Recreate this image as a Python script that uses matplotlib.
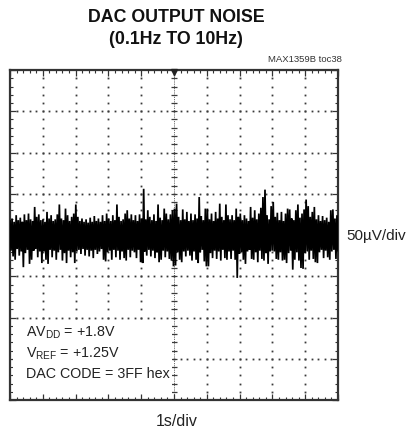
import numpy as np
import matplotlib
matplotlib.use("Agg")
import matplotlib.pyplot as plt
from matplotlib.patches import Rectangle

# ---------------- data ----------------
title_lines = ["DAC OUTPUT NOISE", "(0.1Hz TO 10Hz)"]
chart_id = "MAX1359B toc38"
y_scale_label = "50\u00b5V/div"
x_scale_label = "1s/div"
conditions = ["AV$_{\\mathrm{DD}}$ = +1.8V",
              "V$_{\\mathrm{REF}}$ = +1.25V",
              "DAC CODE = 3FF hex"]

time_span_s = 10.0          # 10 divisions x 1 s/div
volt_span_uv = 400.0        # 8 divisions x 50 uV/div
n_xdiv = 10
n_ydiv = 8

# positive excursions of the noise trace (uV), left to right
upper_uv = [
    17, 20, 16, 24, 18, 21, 16, 25, 18, 26, 19, 17, 34, 22, 25, 18,
    19, 16, 28, 20, 24, 17, 19, 25, 37, 20, 18, 32, 24, 17, 22, 26,
    37, 22, 17, 20, 16, 19, 15, 21, 16, 23, 17, 20, 16, 24, 17, 26,
    20, 17, 24, 18, 37, 22, 17, 19, 26, 30, 20, 25, 18, 24, 17, 25,
    20, 56, 19, 30, 22, 18, 25, 17, 37, 21, 18, 32, 26, 19, 25, 30,
    32, 38, 22, 18, 31, 19, 28, 17, 26, 18, 25, 20, 46, 23, 18, 32,
    32, 19, 26, 17, 28, 20, 38, 22, 18, 37, 24, 19, 24, 18, 32, 22,
    26, 18, 24, 20, 17, 34, 21, 30, 19, 26, 33, 46, 55, 24, 19, 35,
    40, 22, 27, 18, 28, 17, 26, 32, 31, 20, 18, 30, 37, 21, 26, 31,
    43, 35, 22, 28, 34, 19, 24, 17, 23, 18, 21, 16, 30, 31, 20, 24,
]
# negative excursions of the noise trace (uV), left to right
lower_uv = [
    -19, -26, -30, -17, -25, -20, -39, -22, -18, -35, -30, -19, -17, -27, -20, -34,
    -20, -30, -35, -18, -27, -19, -30, -21, -18, -31, -22, -34, -19, -27, -21, -34,
    -20, -18, -23, -17, -25, -18, -26, -19, -28, -18, -23, -20, -17, -30, -32, -21,
    -19, -30, -18, -27, -19, -30, -20, -28, -31, -18, -27, -19, -21, -28, -18, -33,
    -34, -20, -25, -18, -26, -19, -28, -21, -33, -30, -19, -27, -20, -29, -31, -38,
    -37, -21, -30, -33, -20, -26, -19, -25, -31, -20, -30, -34, -21, -18, -32, -38,
    -38, -22, -28, -19, -29, -20, -31, -18, -28, -30, -20, -29, -19, -30, -52, -23,
    -21, -30, -35, -20, -18, -29, -30, -21, -33, -19, -29, -31, -22, -35, -20, -19,
    -20, -29, -30, -21, -31, -30, -34, -22, -19, -42, -30, -21, -31, -40, -41, -22,
    -20, -30, -19, -29, -33, -34, -21, -18, -28, -19, -27, -30, -20, -18, -29, -19,
]

# ---------------- figure ----------------
plt.rcParams['font.family'] = ['Liberation Sans', 'DejaVu Sans']
plt.rcParams['mathtext.fontset'] = 'custom'
plt.rcParams['mathtext.rm'] = 'Liberation Sans'
plt.rcParams['mathtext.it'] = 'Liberation Sans:italic'
plt.rcParams['mathtext.bf'] = 'Liberation Sans:bold'

W, H = 407, 430
fig = plt.figure(figsize=(W / 100, H / 100), dpi=100)
fig.patch.set_facecolor('white')
ax = fig.add_axes([10 / W, 30 / H, 328 / W, 330 / H])

xmax = time_span_s
ymax = volt_span_uv / 2
ax.set_xlim(0, xmax)
ax.set_ylim(-ymax, ymax)

xdiv = xmax / n_xdiv
ydiv = volt_span_uv / n_ydiv

# dotted graticule
gcol = '#3a3a3a'
minor_x = np.arange(0, xmax + 1e-9, xdiv / 5)
minor_y = np.arange(-ymax, ymax + 1e-9, ydiv / 5)
for i in range(1, n_ydiv):
    yv = -ymax + i * ydiv
    if abs(yv) < 1e-9:
        continue
    ax.plot(minor_x[1:-1], np.full(len(minor_x) - 2, yv), ls='none', marker='s',
            ms=1.3, mew=0, color=gcol, zorder=1)
for i in range(1, n_xdiv):
    xv = i * xdiv
    if abs(xv - xmax / 2) < 1e-9:
        continue
    ax.plot(np.full(len(minor_y) - 2, xv), minor_y[1:-1], ls='none', marker='s',
            ms=1.3, mew=0, color=gcol, zorder=1)
# centre axes with cross ticks
ax.axvline(xmax / 2, color=gcol, lw=0.6, ls=(0, (1, 1.2)), zorder=1)
ax.axhline(0, color=gcol, lw=0.6, ls=(0, (1, 1.2)), zorder=1)
ax.plot(np.full(len(minor_y), xmax / 2), minor_y, ls='none', marker='_', ms=5,
        mew=0.9, color=gcol, zorder=1)
ax.plot(minor_x, np.zeros(len(minor_x)), ls='none', marker='|', ms=5,
        mew=0.9, color=gcol, zorder=1)
ax.plot([xmax / 2], [ymax - 2], ls='none', marker='v', ms=4, color='#222222',
        zorder=3, clip_on=False)

# noise trace: alternate positive / negative excursions
trace = np.empty(len(upper_uv) + len(lower_uv))
trace[0::2] = upper_uv
trace[1::2] = lower_uv
t = np.linspace(0, xmax, len(trace))
ax.plot(t, trace, color='black', lw=1.25, zorder=4, solid_joinstyle='miter')

# white box behind the conditions text
ax.add_patch(Rectangle((0.08, -193), 4.85, 90, facecolor='white',
                       edgecolor='none', zorder=2.2))
ys_text = [-123.5, -149, -173]
for s, yv in zip(conditions, ys_text):
    ax.text(0.49, yv, s, fontsize=10.3, va='baseline', ha='left',
            color='#222222', zorder=5)

# frame and ticks
for sp in ax.spines.values():
    sp.set_linewidth(1.6)
    sp.set_color('#333333')
ax.set_xticks(np.arange(0, xmax + 1e-9, xdiv))
ax.set_yticks(np.arange(-ymax, ymax + 1e-9, ydiv))
ax.set_xticks(minor_x, minor=True)
ax.set_yticks(minor_y, minor=True)
ax.tick_params(which='both', direction='in', top=True, right=True,
               labelbottom=False, labelleft=False, color='#333333')
ax.tick_params(which='major', length=4, width=0.9)
ax.tick_params(which='minor', length=2.5, width=0.8)

# texts
fig.text(176 / W, 1 - 18 / H, title_lines[0], ha='center', va='center',
         fontsize=12.8, fontweight='bold', color='#111111')
fig.text(176 / W, 1 - 40 / H, title_lines[1], ha='center', va='center',
         fontsize=12.8, fontweight='bold', color='#111111')
fig.text(342 / W, 1 - 60 / H, chart_id, ha='right', va='center',
         fontsize=6.8, color='#333333')
fig.text(346 / W, 1 - 236 / H, y_scale_label, ha='left', va='center',
         fontsize=11, color='#222222')
fig.text(177 / W, 1 - 421 / H, x_scale_label, ha='center', va='center',
         fontsize=11.5, color='#222222')

fig.savefig('out.png', dpi=100, facecolor='white')
